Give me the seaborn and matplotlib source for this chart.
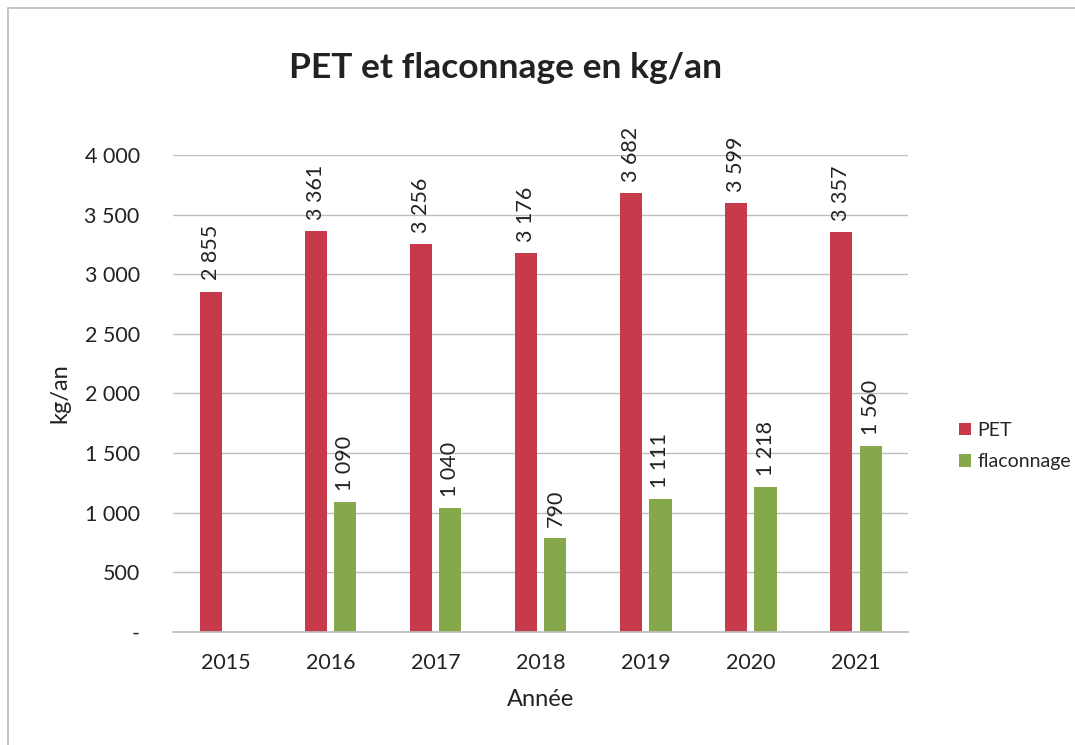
import matplotlib
matplotlib.use("Agg")
import matplotlib.pyplot as plt
import seaborn as sns
import pandas as pd
from matplotlib.patches import Rectangle

years = ["2015", "2016", "2017", "2018", "2019", "2020", "2021"]
pet = [2855, 3361, 3256, 3176, 3682, 3599, 3357]
flaconnage = [None, 1090, 1040, 790, 1111, 1218, 1560]
series_names = ["PET", "flaconnage"]
colors = ["#C63A4C", "#84A84A"]

rows = []
for y, p, f in zip(years, pet, flaconnage):
    rows.append({"Année": y, "serie": "PET", "val": p})
    rows.append({"Année": y, "serie": "flaconnage", "val": f})
df = pd.DataFrame(rows)

sns.set_theme(style="white")
plt.rcParams['font.family'] = ['Lato', 'DejaVu Sans']

fig = plt.figure(figsize=(10.75, 7.45), dpi=100)
ax = fig.add_axes([0.161, 0.1517, 0.684, 0.6403])

sns.barplot(data=df, x="Année", y="val", hue="serie", hue_order=series_names,
            palette=colors, width=0.56, gap=0.25, ax=ax, saturation=1,
            edgecolor="none", legend=True)

ax.set_ylim(0, 4000)
ax.set_yticks(range(0, 4001, 500))
def fmt(v):
    v = int(v)
    if v == 0:
        return "-"
    return f"{v:,}".replace(",", " ")
ax.set_yticklabels([fmt(v) for v in range(0, 4001, 500)])
ax.yaxis.grid(True, color="#BDBDBD", linewidth=1)
ax.set_axisbelow(True)
for s in ["top", "right", "left"]:
    ax.spines[s].set_visible(False)
ax.spines["bottom"].set_color("#BDBDBD")
ax.tick_params(axis="y", length=0, pad=24, labelsize=15.5, labelcolor="#222222")
ax.tick_params(axis="x", length=0, pad=15, labelsize=15.5, labelcolor="#222222")

ax.set_xlabel("Année", fontsize=17, color="#222222", labelpad=12)
ax.set_ylabel("kg/an", fontsize=17, color="#222222", labelpad=10)

for cont in ax.containers:
    for bar in cont:
        h = bar.get_height()
        if h is None or h != h or h == 0:
            continue
        ax.annotate(fmt(h), (bar.get_x() + bar.get_width() / 2, h),
                    xytext=(0, 8), textcoords="offset points",
                    rotation=90, ha="center", va="bottom",
                    fontsize=15.5, color="#222222", annotation_clip=False)

ax.legend(loc="center left", bbox_to_anchor=(1.045, 0.39), frameon=False,
          fontsize=14, handlelength=0.6, handleheight=0.6,
          labelspacing=0.75, handletextpad=0.35)

fig.suptitle("PET et flaconnage en kg/an", x=0.47, y=0.93, fontsize=25.5,
             fontweight="bold", color="#222222")

fig.patches.append(Rectangle((0.007, -0.02), 1.2, 1.009, transform=fig.transFigure,
                             fill=False, edgecolor="#BBBBBB", linewidth=1.2))

fig.savefig("out.png", dpi=100)
